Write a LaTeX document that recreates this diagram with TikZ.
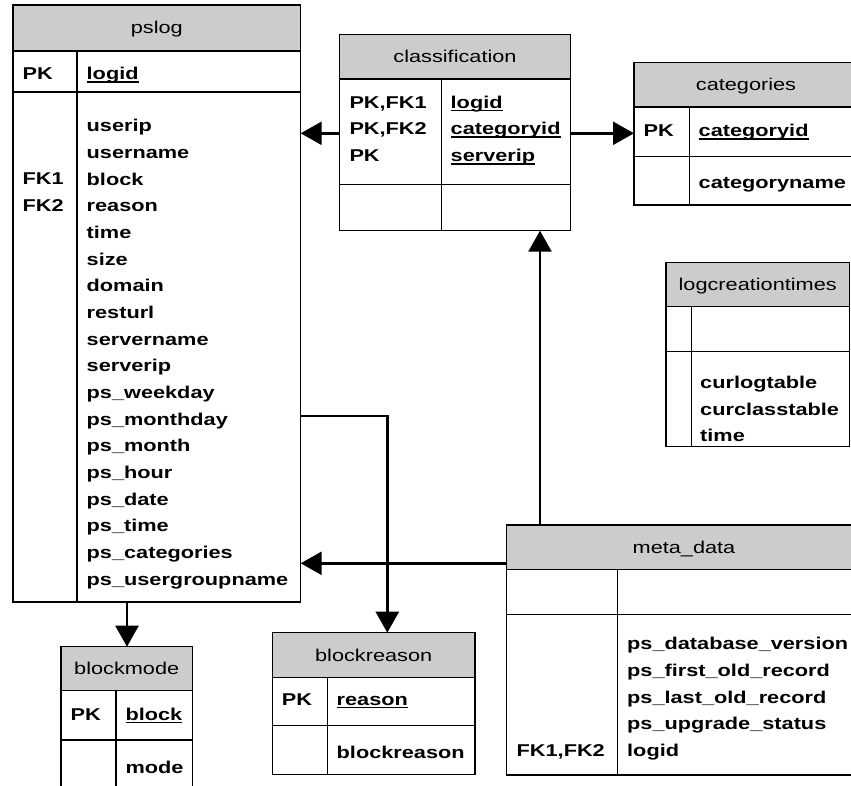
\documentclass[tikz,border=0pt]{standalone}
\usepackage{fontspec}
\setmainfont{Liberation Sans}[FakeStretch=1.27]
\usetikzlibrary{arrows.meta,calc}
\definecolor{hdrgray}{RGB}{204,204,204}
\newcommand\uln[1]{\setbox0=\hbox{#1}\rlap{\rule[-3pt]{\wd0}{1.5pt}}\box0}
\begin{document}
\begin{tikzpicture}[x=1pt,y=-1pt,
  frame/.style={draw, line width=1.4pt, inner sep=0pt, outer sep=0pt, anchor=north west},
  hdr/.style={frame, fill=hdrgray},
  grid/.style={line width=1.4pt},
  conn/.style={line width=2.6pt, -{Triangle[length=21pt,width=23pt]}},
  tt/.style={anchor=base, inner sep=0pt, font=\fontsize{17.1}{20}\selectfont},
  fld/.style={anchor=base west, inner sep=0pt, font=\fontsize{17.1}{20}\selectfont\bfseries}]
\useasboundingbox (0,0) rectangle (851,786);
\clip (0,0) rectangle (851,786);

% ---------- pslog
\node[frame, minimum width=287.7pt, minimum height=597pt] (pslog) at (13,5) {};
\node[hdr, minimum width=287.7pt, minimum height=46pt] (pslogh) at (13,5) {};
\draw[grid] (13,92) -- (300.7,92);
\draw[grid] (77,51) -- (77,602);
\node[tt] (pslogt) at (156.8,34) {pslog};
\node[fld] (pslogk) at (22.4,80) {PK};
\node[fld] (pslogp) at (86.5,80) {\uln{logid}};
\node[fld] (pslogfk1) at (22.4,185) {FK1};
\node[fld] (pslogfk2) at (22.4,211.7) {FK2};
\foreach \t [count=\i] in {userip,username,block,reason,time,size,domain,resturl,servername,serverip,ps\_weekday,ps\_monthday,ps\_month,ps\_hour,ps\_date,ps\_time,ps\_categories,ps\_usergroupname}
  \node[fld] (pslogf\i) at (86.5,{131.7+(\i-1)*26.67}) {\t};

% ---------- classification
\node[frame, minimum width=231.4pt, minimum height=196.4pt] (classif) at (339.3,34.3) {};
\node[hdr, minimum width=231.4pt, minimum height=44.7pt] (classifh) at (339.3,34.3) {};
\draw[grid] (441.3,79) -- (441.3,230.7);
\draw[grid] (339.3,184.7) -- (570.7,184.7);
\node[tt] (classift) at (455,62.7) {classification};
\node[fld] (classk1) at (349.3,108.3) {PK,FK1};
\node[fld] (classk2) at (349.3,135) {PK,FK2};
\node[fld] (classk3) at (349.3,161.7) {PK};
\node[fld] (classf1) at (450.5,108.3) {\uln{logid}};
\node[fld] (classf2) at (450.5,135) {\uln{categoryid}};
\node[fld] (classf3) at (450.5,161.7) {\uln{serverip}};

% ---------- categories
\node[frame, minimum width=224pt, minimum height=142.3pt] (cats) at (634,62.7) {};
\node[hdr, minimum width=224pt, minimum height=44.3pt] (catsh) at (634,62.7) {};
\draw[grid] (634,156.5) -- (858,156.5);
\draw[grid] (689.3,107) -- (689.3,205);
\node[tt] (catst) at (746,90.9) {categories};
\node[fld] (catsk) at (643.4,136.7) {PK};
\node[fld] (catsf1) at (698.5,136.7) {\uln{categoryid}};
\node[fld] (catsf2) at (698.5,188.3) {categoryname};

% ---------- logcreationtimes
\node[frame, minimum width=183.5pt, minimum height=184pt] (lct) at (666,262.7) {};
\node[hdr, minimum width=183.5pt, minimum height=44pt] (lcth) at (666,262.7) {};
\draw[grid] (666,351.7) -- (849.5,351.7);
\draw[grid] (691.7,306.7) -- (691.7,446.7);
\node[tt] (lctt) at (757.7,290.7) {logcreationtimes};
\node[fld] (lctf1) at (700,388.5) {curlogtable};
\node[fld] (lctf2) at (700,415.2) {curclasstable};
\node[fld] (lctf3) at (700,441.9) {time};

% ---------- meta_data
\node[frame, minimum width=354.3pt, minimum height=250pt] (meta) at (506.7,525) {};
\node[hdr, minimum width=354.3pt, minimum height=44.5pt] (metah) at (506.7,525) {};
\draw[grid] (506.7,614.3) -- (861,614.3);
\draw[grid] (617.5,569.5) -- (617.5,775);
\node[tt] (metat) at (684,553.3) {meta\_data};
\node[fld] (metak) at (516.5,756.4) {FK1,FK2};
\foreach \t [count=\i] in {ps\_database\_version,ps\_first\_old\_record,ps\_last\_old\_record,ps\_upgrade\_status,logid}
  \node[fld] (metaf\i) at (627,{649.7+(\i-1)*26.67}) {\t};

% ---------- blockreason
\node[frame, minimum width=202.7pt, minimum height=141.6pt] (breason) at (272.3,632.7) {};
\node[hdr, minimum width=202.7pt, minimum height=44.6pt] (breasonh) at (272.3,632.7) {};
\draw[grid] (272.3,725.7) -- (475,725.7);
\draw[grid] (327.3,677.3) -- (327.3,774.3);
\node[tt] (breasont) at (373.7,661) {blockreason};
\node[fld] (breasonk) at (281.7,705) {PK};
\node[fld] (breasonf1) at (336.5,705) {\uln{reason}};
\node[fld] (breasonf2) at (336.5,758.3) {blockreason};

% ---------- blockmode
\node[frame, minimum width=131.3pt, minimum height=160pt] (bmode) at (61,646.7) {};
\node[hdr, minimum width=131.3pt, minimum height=44pt] (bmodeh) at (61,646.7) {};
\draw[grid] (61,740) -- (192.3,740);
\draw[grid] (116,690.7) -- (116,806.7);
\node[tt] (bmodet) at (126.7,674.7) {blockmode};
\node[fld] (bmodek) at (70.4,720) {PK};
\node[fld] (bmodef1) at (125.3,720) {\uln{block}};
\node[fld] (bmodef2) at (125.3,773.3) {mode};

% ---------- connectors
\coordinate (yA) at (0,133.3);
\coordinate (xM) at (540,0);
\coordinate (yM) at (0,563.3);
\coordinate (yB) at (0,416);
\coordinate (xB) at (387.3,0);
\coordinate (xK) at (127,0);
\draw[conn] (classif.west |- yA) -- (pslog.east |- yA);
\draw[conn] (classif.east |- yA) -- (cats.west |- yA);
\draw[conn] (meta.north -| xM) -- (classif.south -| xM);
\draw[conn] (meta.west |- yM) -- (pslog.east |- yM);
\draw[conn] (pslog.east |- yB) -| (breason.north -| xB);
\draw[conn] (pslog.south -| xK) -- (bmode.north -| xK);
\end{tikzpicture}
\end{document}
